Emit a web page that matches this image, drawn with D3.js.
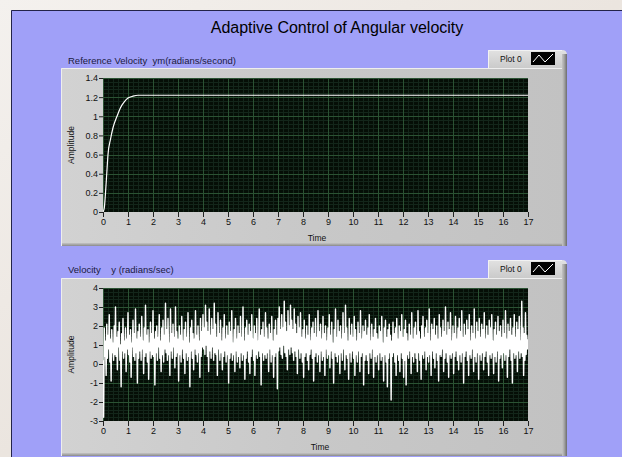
<!DOCTYPE html>
<html><head><meta charset="utf-8">
<script src="https://cdn.jsdelivr.net/npm/d3@7"></script>
<style>
html,body{margin:0;padding:0;background:#efebe7;overflow:hidden;}
svg{display:block;}
text{font-family:"Liberation Sans",Arial,sans-serif;}
</style></head><body>
<svg id="chart" width="622" height="457"></svg>
<script>
// ---- text ----
const chartTitle = "Adaptive Control of Angular velocity";
const refLabel = "Reference Velocity  ym(radians/second)";
const velLabel = "Velocity    y (radians/sec)";
const legendName = "Plot 0";
const yAxisName = "Amplitude";
const xAxisName = "Time";

// ---- tick labels ----
const timeTicks = [0,1,2,3,4,5,6,7,8,9,10,11,12,13,14,15,16,17];
const refTicks = [0,0.2,0.4,0.6,0.8,1,1.2,1.4];
const velTicks = [-3,-2,-1,0,1,2,3,4];

// ---- reference model response ym(t) ----
const refTime  = [0, 0.05, 0.1, 0.15, 0.2, 0.3, 0.4, 0.56, 0.7, 0.85, 1.0, 1.2, 1.4, 17];
const refValue = [0, 0.04, 0.2, 0.4, 0.6, 0.76, 0.88, 1.0, 1.09, 1.15, 1.19, 1.21, 1.22, 1.22];

// ---- measured velocity y(t), evenly sampled over 0..17 s ----
const velocitySamples = [
0.2,-2.8,1.9,0.4,1.2,-0.6,2.1,0.3,1.5,0.8,2.6,0.1,1.3,-0.9,1.8,0.6,1.1,0.2,2.0,0.5,
3.0,0.4,1.4,-0.3,1.7,0.9,2.2,0.2,1.0,-1.2,1.6,0.7,2.4,0.3,1.2,0.6,1.9,-0.4,1.3,0.8,
2.7,0.5,1.5,0.1,1.8,-0.7,1.1,0.9,2.3,0.4,1.6,0.2,2.9,0.6,1.3,-1.0,1.7,0.3,2.1,0.7,
1.4,0.2,2.5,0.8,1.2,-0.5,1.9,0.4,3.1,0.6,1.5,0.1,1.8,-0.8,1.1,0.7,2.2,0.3,1.6,0.5,
2.8,0.4,1.3,-1.1,1.7,0.6,2.0,0.2,1.4,0.9,2.6,0.3,1.2,-0.4,1.9,0.5,2.3,0.1,1.5,0.8,
3.2,0.6,1.8,0.2,2.4,0.5,1.1,-0.6,2.9,0.7,1.6,0.3,2.1,0.9,1.4,-0.2,3.0,0.4,1.7,0.6,
1.3,-0.9,2.0,0.5,1.5,0.1,2.5,0.8,1.2,0.3,1.8,-0.5,2.2,0.6,1.4,0.2,2.7,0.4,1.1,-1.2,
1.9,0.7,2.3,0.3,1.6,-0.3,1.3,0.8,2.8,0.5,1.5,0.1,2.0,0.6,1.2,-0.7,2.4,0.4,1.7,0.9,
2.6,0.8,1.9,0.5,3.1,1.0,2.2,0.4,1.7,-0.4,2.9,0.7,1.5,0.3,2.4,0.9,1.8,0.2,3.2,0.6,
2.1,0.5,1.4,-0.6,2.7,0.8,1.6,0.2,2.3,0.6,1.2,-0.3,1.9,0.4,2.6,0.7,1.3,0.1,2.0,0.5,
1.5,-1.0,2.2,0.3,1.7,0.6,2.8,0.2,1.1,0.5,1.8,-0.4,2.4,0.7,1.3,0.1,2.0,0.4,1.6,-0.2,
2.5,0.6,1.4,0.2,3.0,0.5,1.2,-0.8,1.9,0.3,2.3,0.7,1.5,0.1,2.1,-0.5,1.7,0.4,2.6,0.8,
1.3,0.2,2.0,-0.6,1.6,0.5,2.4,0.3,1.2,0.7,2.9,0.4,1.5,-1.1,1.8,0.6,2.2,0.2,1.4,0.5,
2.7,0.3,1.9,0.6,1.3,-0.4,2.1,0.8,1.6,0.1,2.5,0.5,1.2,-0.7,1.8,0.4,2.3,0.6,1.5,-1.3,
2.4,0.7,3.0,0.9,1.8,0.5,2.6,0.3,1.9,1.0,3.3,0.6,2.2,0.4,1.7,-0.3,2.8,0.8,2.0,0.5,
3.1,0.9,2.3,0.6,1.8,0.2,2.9,0.7,2.1,0.4,1.6,-0.5,2.5,0.8,1.9,0.3,2.7,0.6,1.4,0.1,
1.8,-0.7,2.3,0.4,1.3,0.6,2.0,0.2,1.5,-0.3,2.6,0.5,1.2,0.8,1.9,0.3,2.2,-0.9,1.6,0.4,
2.4,0.6,1.4,0.1,2.8,0.5,1.7,-0.4,2.1,0.7,1.3,0.2,2.5,0.4,1.6,-0.6,2.0,0.8,1.2,0.3,
1.9,0.5,2.6,-0.2,1.5,0.7,2.2,0.3,1.1,-1.0,1.8,0.6,2.9,0.4,1.4,0.1,2.3,0.5,1.7,-0.5,
2.0,0.6,1.3,0.2,2.7,0.8,1.6,-0.3,3.1,0.5,1.9,0.3,1.2,-0.8,2.4,0.6,1.5,0.1,2.1,0.7,
1.4,0.3,2.5,-0.6,1.8,0.5,1.2,0.1,2.2,0.7,1.6,-0.4,2.8,0.4,1.3,0.6,2.0,-1.1,1.7,0.2,
2.3,0.5,1.5,0.2,1.9,-0.5,2.6,0.6,1.2,0.3,2.1,0.8,1.4,-0.7,1.8,0.4,2.4,0.1,1.6,0.5,
1.3,-0.3,2.0,0.6,1.7,0.2,2.5,0.4,1.1,-0.9,1.9,0.5,2.3,0.1,1.4,-1.2,1.8,0.3,2.1,0.6,
1.5,-1.9,1.2,0.4,2.2,0.6,1.6,0.1,1.9,-0.6,2.4,0.5,1.3,0.2,2.0,-0.4,1.7,0.6,2.6,0.3,
1.4,-0.7,1.8,0.2,2.3,-1.1,1.6,0.5,1.2,0.3,2.1,0.7,1.5,-0.5,2.7,0.4,1.3,0.1,1.9,0.6,
2.2,0.3,1.5,-0.4,2.8,0.6,1.7,0.2,1.3,-0.8,2.0,0.5,2.5,0.3,1.4,0.7,1.9,-0.3,2.3,0.4,
1.6,0.1,2.9,0.5,1.2,-0.6,2.1,0.7,1.8,0.3,2.4,-0.2,1.5,0.6,2.0,0.2,1.3,-0.9,2.6,0.5,
1.9,0.4,1.4,0.8,2.3,-0.4,1.7,0.3,3.0,0.6,1.5,0.1,2.2,-0.7,1.8,0.5,2.7,0.3,1.2,0.6,
2.0,-0.5,1.6,0.4,2.5,0.7,1.3,0.2,1.9,-0.3,2.4,0.5,1.7,0.1,2.8,0.6,1.4,-1.0,2.1,0.4,
1.5,0.7,2.3,0.2,1.8,-0.6,2.6,0.5,1.2,0.3,2.0,0.8,1.6,-0.4,2.9,0.4,1.3,0.1,2.2,0.6,
1.7,-0.8,2.4,0.5,1.4,0.2,2.1,0.6,1.8,-0.3,2.7,0.4,1.3,0.7,2.0,0.1,1.5,-0.6,2.3,0.5,
1.9,0.3,2.6,0.6,1.2,-0.5,1.8,0.4,2.2,0.1,1.5,0.7,2.5,-0.9,1.7,0.3,2.0,0.5,1.4,-0.2,
2.3,0.6,1.6,0.2,2.8,0.5,1.3,-0.7,2.1,0.4,1.7,0.8,2.4,0.2,1.5,-1.0,1.9,0.6,2.6,0.3,
1.4,0.5,2.2,-0.4,1.8,0.7,2.5,0.3,1.2,0.6,3.3,0.4,1.9,-0.6,1.6,0.2,2.7,0.5,1.5,0.8,
1.3
];

// ---- layout ----
const W = 622, H = 457;
const svg = d3.select("#chart");
const defs = svg.append("defs");

function linGrad(id, x2, y2, stops) {
  const g = defs.append("linearGradient").attr("id", id)
    .attr("x1", 0).attr("y1", 0).attr("x2", x2).attr("y2", y2);
  stops.forEach(([o, c]) => g.append("stop").attr("offset", o).attr("stop-color", c));
}
linGrad("bgWash", 1, 1, [[0, "#f4f1ee"], [0.5, "#ebe5df"], [1, "#f1ede9"]]);
linGrad("shadeR", 1, 0, [[0, "#c4c4c4"], [0.4, "#a9a9a9"], [1, "#6d6d6d"]]);
linGrad("shadeB", 0, 1, [[0, "#c4c4c4"], [1, "#8a8a8a"]]);
linGrad("legendFill", 0, 1, [[0, "#e2e2e2"], [1, "#c9c9c9"]]);
linGrad("frameFill", 1, 0, [[0, "#d2d2d2"], [0.5, "#c8c8c8"], [1, "#c2c2c2"]]);

// page background and front panel
svg.append("rect").attr("width", W).attr("height", H).attr("fill", "url(#bgWash)");
svg.append("rect").attr("x", 11).attr("y", 10).attr("width", 700).attr("height", 500)
  .attr("fill", "#a0a0f8");
svg.append("path").attr("d", "M11.5,457V10.5H622").attr("fill", "none")
  .attr("stroke", "#23234a").attr("stroke-width", 1);

svg.append("text").attr("x", 337).attr("y", 33).attr("text-anchor", "middle")
  .attr("font-size", 16).attr("fill", "#000").text(chartTitle);

const xRange = [103, 528];

function drawGraph(cfg) {
  const g = svg.append("g");
  const f = cfg.frame;

  // legend tab
  const lx0 = 488, lx1 = 567, ly0 = cfg.legendY, ly1 = f.y0 + 1;
  g.append("path")
    .attr("d", `M${lx0},${ly1}V${ly0}H${lx1 - 5}Q${lx1},${ly0} ${lx1},${ly0 + 5}V${ly1}Z`)
    .attr("fill", "url(#legendFill)");
  g.append("rect").attr("x", lx1 - 5).attr("y", ly0 + 4).attr("width", 5).attr("height", ly1 - ly0 - 4)
    .attr("fill", "url(#shadeR)");
  g.append("path").attr("d", `M${lx0 + 0.5},${ly1}V${ly0 + 0.5}H${lx1 - 5}`)
    .attr("fill", "none").attr("stroke", "#f2f2f2");
  g.append("text").attr("x", 500).attr("y", ly0 + 12).attr("font-size", 8.5)
    .attr("fill", "#111").text(legendName);
  g.append("rect").attr("x", 531).attr("y", ly0 + 2).attr("width", 24).attr("height", 13)
    .attr("fill", "#000");
  g.append("path").attr("d", `M533,${ly0 + 12}L539,${ly0 + 5}L545,${ly0 + 12}L553,${ly0 + 4}`)
    .attr("fill", "none").attr("stroke", "#fff").attr("stroke-width", 1);

  // grey graph frame
  g.append("rect").attr("x", f.x0).attr("y", f.y0).attr("width", f.x1 - f.x0).attr("height", f.y1 - f.y0)
    .attr("fill", "url(#frameFill)");
  g.append("rect").attr("x", f.x1 - 5).attr("y", f.y0).attr("width", 5).attr("height", f.y1 - f.y0)
    .attr("fill", "url(#shadeR)");
  g.append("rect").attr("x", f.x0).attr("y", f.y1 - 3).attr("width", f.x1 - f.x0 - 5).attr("height", 3)
    .attr("fill", "url(#shadeB)");
  g.append("path").attr("d", `M${f.x0 + 0.5},${f.y1}V${f.y0 + 0.5}H${f.x1 - 5}`)
    .attr("fill", "none").attr("stroke", "#eeeeee");

  // graph caption above the frame
  g.append("text").attr("x", 68).attr("y", cfg.labelY).attr("font-size", 9.5)
    .attr("fill", "#1a1a40").style("white-space", "pre").text(cfg.label);

  const x = d3.scaleLinear().domain([0, 17]).range(xRange);
  const y = d3.scaleLinear().domain(cfg.yDomain).range(cfg.yRange);
  const [px0, px1] = xRange, [py1, py0] = cfg.yRange;

  // plot area
  g.append("rect").attr("x", px0).attr("y", py0).attr("width", px1 - px0).attr("height", py1 - py0)
    .attr("fill", "#050e06");

  const clipId = "clip" + cfg.id;
  defs.append("clipPath").attr("id", clipId).append("rect")
    .attr("x", px0).attr("y", py0).attr("width", px1 - px0).attr("height", py1 - py0);

  const grid = g.append("g").attr("clip-path", `url(#${clipId})`);
  const minorX = d3.range(0, 17 * 5 + 1).map(i => i / 5);
  const ySpan = cfg.yTicks[1] - cfg.yTicks[0];
  const minorY = d3.range(0, (cfg.yTicks.length - 1) * 5 + 1).map(i => cfg.yTicks[0] + i * ySpan / 5);
  grid.selectAll(".mx").data(minorX).join("line")
    .attr("x1", d => Math.round(x(d)) + 0.5).attr("x2", d => Math.round(x(d)) + 0.5)
    .attr("y1", py0).attr("y2", py1).attr("stroke", "#13261a").attr("stroke-width", 1);
  grid.selectAll(".my").data(minorY).join("line")
    .attr("y1", d => Math.round(y(d)) + 0.5).attr("y2", d => Math.round(y(d)) + 0.5)
    .attr("x1", px0).attr("x2", px1).attr("stroke", "#13261a").attr("stroke-width", 1);
  grid.selectAll(".Mx").data(timeTicks).join("line")
    .attr("x1", d => Math.round(x(d)) + 0.5).attr("x2", d => Math.round(x(d)) + 0.5)
    .attr("y1", py0).attr("y2", py1).attr("stroke", "#2b5233").attr("stroke-width", 1);
  grid.selectAll(".My").data(cfg.yTicks).join("line")
    .attr("y1", d => Math.round(y(d)) + 0.5).attr("y2", d => Math.round(y(d)) + 0.5)
    .attr("x1", px0).attr("x2", px1).attr("stroke", "#2b5233").attr("stroke-width", 1);

  // trace
  const line = d3.line().x(d => x(d[0])).y(d => y(d[1]));
  if (cfg.curve) line.curve(cfg.curve);
  grid.append("path").datum(cfg.points).attr("d", line)
    .attr("fill", "none").attr("stroke", "#ffffff").attr("stroke-width", cfg.strokeW)
    .attr("stroke-linejoin", "round");

  // axes
  const xAxis = g.append("g").attr("transform", `translate(0,${py1})`)
    .call(d3.axisBottom(x).tickValues(timeTicks).tickFormat(d => String(d)).tickSize(5).tickPadding(2));
  const yAxis = g.append("g").attr("transform", `translate(${px0},0)`)
    .call(d3.axisLeft(y).tickValues(cfg.yTicks).tickFormat(d => String(d)).tickSize(4).tickPadding(1));
  [xAxis, yAxis].forEach(a => {
    a.select(".domain").remove();
    a.selectAll(".tick line").attr("stroke", "#222");
    a.selectAll(".tick text").attr("fill", "#111").attr("font-size", 9)
      .attr("font-family", '"Liberation Sans",Arial,sans-serif');
  });

  g.append("text").attr("transform", `translate(74,${(py0 + py1) / 2}) rotate(-90)`)
    .attr("text-anchor", "middle").attr("font-size", 8.5).attr("fill", "#111").text(yAxisName);
  g.append("text").attr("x", cfg.timeX).attr("y", cfg.timeY).attr("text-anchor", "middle")
    .attr("font-size", 8.5).attr("fill", "#111").text(xAxisName);
}

const refPoints = refTime.map((t, i) => [t, refValue[i]]);
const velStep = 17 / (velocitySamples.length - 1);
const velPoints = velocitySamples.map((v, i) => [i * velStep, v]);

drawGraph({
  id: 1, label: refLabel, labelY: 64, legendY: 50,
  frame: { x0: 61, x1: 567, y0: 68, y1: 246 },
  yDomain: [0, 1.4], yRange: [212, 78], yTicks: refTicks,
  points: refPoints, curve: d3.curveMonotoneX, strokeW: 1.2,
  timeX: 317, timeY: 241
});
drawGraph({
  id: 2, label: velLabel, labelY: 273, legendY: 260,
  frame: { x0: 61, x1: 567, y0: 278, y1: 456 },
  yDomain: [-3, 4], yRange: [421, 288], yTicks: velTicks,
  points: velPoints, curve: null, strokeW: 1.4,
  timeX: 320, timeY: 450
});
</script>
</body></html>
